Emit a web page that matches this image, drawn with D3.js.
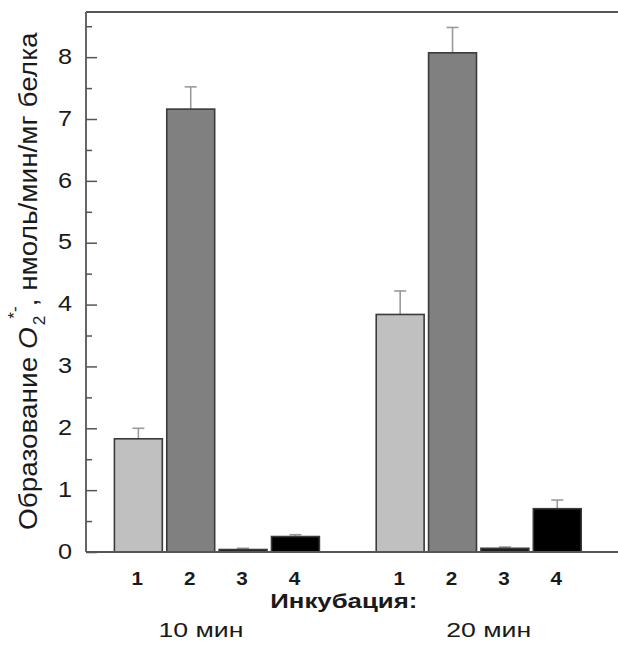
<!DOCTYPE html>
<html><head><meta charset="utf-8">
<script src="https://cdn.jsdelivr.net/npm/d3@7"></script>
<style>body{margin:0;background:#fff}svg{display:block}</style>
</head><body>
<script>
const groups = ["10 мин", "20 мин"];
const barLabels = ["1", "2", "3", "4"];
const values10 = [1.83, 7.16, 0.04, 0.25];
const errors10 = [0.17, 0.36, 0.02, 0.03];
const values20 = [3.84, 8.07, 0.06, 0.70];
const errors20 = [0.38, 0.41, 0.02, 0.14];
const fills = ["#c0c0c0", "#808080", "#1e1e1e", "#000000"];
const yTicks = [0, 1, 2, 3, 4, 5, 6, 7, 8];
const yMinorTicks = [0.5, 1.5, 2.5, 3.5, 4.5, 5.5, 6.5, 7.5, 8.5];
const xTitle = "Инкубация:";

(function () {
const W = 618, H = 655;
const svg = d3.select("body").append("svg").attr("width", W).attr("height", H)
  .style("font-family", "'Liberation Sans', Arial, sans-serif");

const mLeft = 86, mRight = 618, mTop = 12, mBottom = 552;
const x = d3.scaleLinear().domain([-1, 9.16]).range([mLeft, mRight]);
const y = d3.scaleLinear().domain([0, 8.73]).range([mBottom, mTop]);
const bw = (x(1) - x(0)) * 0.915;
const txt = "#1a1a1a";

const data = [];
[values10, values20].forEach((vals, g) => {
  vals.forEach((v, i) => data.push({g, i, v, e: (g === 0 ? errors10 : errors20)[i], pos: g * 5 + i}));
});

// error bars (upper only)
const eb = svg.append("g").attr("stroke", "#9a9a9a").attr("stroke-width", 1.6);
data.forEach(d => {
  const cx = x(d.pos);
  eb.append("line").attr("x1", cx).attr("x2", cx).attr("y1", y(d.v)).attr("y2", y(d.v + d.e));
  eb.append("line").attr("x1", cx - 6).attr("x2", cx + 6).attr("y1", y(d.v + d.e)).attr("y2", y(d.v + d.e));
});

// bars
svg.append("g").selectAll("rect").data(data).join("rect")
  .attr("x", d => x(d.pos) - bw / 2)
  .attr("width", bw)
  .attr("y", d => y(d.v))
  .attr("height", d => y(0) - y(d.v))
  .attr("fill", d => fills[d.i])
  .attr("stroke", "#3a3a3a")
  .attr("stroke-width", 1.6);

// frame lines
const axisColor = "#555";
svg.append("line").attr("x1", mLeft).attr("x2", mRight).attr("y1", mTop).attr("y2", mTop)
  .attr("stroke", axisColor).attr("stroke-width", 1.8);
svg.append("line").attr("x1", mLeft).attr("x2", mRight).attr("y1", mBottom).attr("y2", mBottom)
  .attr("stroke", axisColor).attr("stroke-width", 1.8);

// y axis with inner ticks
const yAxis = d3.axisRight(y).tickValues(yTicks).tickSize(11).tickFormat("");
const ga = svg.append("g").attr("transform", `translate(${mLeft},0)`).call(yAxis);
ga.select(".domain").attr("stroke", axisColor).attr("stroke-width", 1.8).attr("d", `M0,${mTop}V${mBottom}`);
ga.selectAll(".tick line").attr("stroke", axisColor).attr("stroke-width", 1.5);
const yMinor = d3.axisRight(y).tickValues(yMinorTicks).tickSize(6).tickFormat("");
const gm = svg.append("g").attr("transform", `translate(${mLeft},0)`).call(yMinor);
gm.select(".domain").remove();
gm.selectAll(".tick line").attr("stroke", axisColor).attr("stroke-width", 1.5);

// y tick labels (slightly wide glyphs as in reference)
svg.append("g").selectAll("text").data(yTicks).join("text")
  .attr("transform", d => `translate(72,${y(d) - 1}) scale(1.15,1)`)
  .attr("dy", "0.35em")
  .attr("text-anchor", "end").attr("font-size", 22).attr("fill", txt)
  .text(d => d);

// bar number labels
svg.append("g").selectAll("text").data(data).join("text")
  .attr("transform", d => `translate(${x(d.pos) - 1},585) scale(1.15,1)`)
  .attr("text-anchor", "middle").attr("font-size", 18).attr("font-weight", "bold").attr("fill", txt)
  .text(d => barLabels[d.i]);

// x title
svg.append("text").attr("x", x(4) - 4).attr("y", 608).attr("text-anchor", "middle")
  .attr("font-size", 21).attr("font-weight", "bold").attr("fill", txt)
  .attr("textLength", 147).attr("lengthAdjust", "spacingAndGlyphs").text(xTitle);

// group labels
const groupShift = [-16, 10];
svg.append("g").selectAll("text").data(groups).join("text")
  .attr("x", (d, g) => x(g * 5 + 1.5) + groupShift[g])
  .attr("y", 637).attr("text-anchor", "middle").attr("font-size", 20).attr("fill", txt)
  .attr("textLength", 85).attr("lengthAdjust", "spacingAndGlyphs")
  .text(d => d);

// y axis title
const yt = svg.append("text").attr("transform", `translate(36.5,530) rotate(-90) scale(1.075,1)`)
  .attr("text-anchor", "start").attr("font-size", 26).attr("fill", txt);
yt.append("tspan").text("Образование ");
yt.append("tspan").attr("font-style", "italic").text("O");
yt.append("tspan").attr("font-size", 16).attr("dy", 8).attr("dx", 2).text("2");
yt.append("tspan").attr("font-size", 16).attr("dy", -25).attr("dx", -3).text("*-");
yt.append("tspan").attr("dy", 17).text(",  нмоль/мин/мг белка");
})();
</script>
</body></html>
